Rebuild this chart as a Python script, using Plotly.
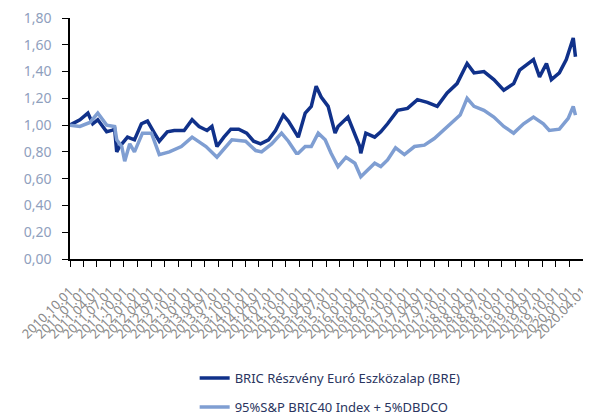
import plotly.graph_objects as go

# BRIC Részvény Euró Eszközalap (BRE)
bre_dates = ['2010-10-01', '2010-12-07', '2011-01-30', '2011-03-04', '2011-04-07', '2011-05-11',
             '2011-06-06', '2011-07-10', '2011-07-30', '2011-08-13', '2011-09-02', '2011-10-25',
             '2011-12-11', '2012-01-27', '2012-03-08', '2012-04-24', '2012-05-27', '2012-07-20',
             '2012-09-05', '2012-11-11', '2013-01-04', '2013-02-20', '2013-04-15', '2013-05-18',
             '2013-06-21', '2013-08-07', '2013-09-23', '2013-11-15', '2014-01-08', '2014-02-24',
             '2014-04-12', '2014-06-05', '2014-07-22', '2014-09-13', '2014-10-17', '2014-12-23',
             '2015-02-08', '2015-03-21', '2015-04-23', '2015-05-27', '2015-07-13', '2015-08-29',
             '2015-09-18', '2015-11-24', '2016-01-10', '2016-02-12', '2016-02-19', '2016-03-24',
             '2016-05-23', '2016-07-03', '2016-08-18', '2016-10-25', '2016-12-31', '2017-03-08',
             '2017-05-14', '2017-07-20', '2017-09-25', '2017-12-01', '2018-02-07', '2018-03-26',
             '2018-06-01', '2018-08-07', '2018-10-13', '2018-12-19', '2019-01-28', '2019-05-02',
             '2019-06-12', '2019-07-29', '2019-08-31', '2019-10-24', '2019-12-10', '2019-12-30',
             '2020-01-26', '2020-02-10']
bre_values = [1.00, 1.04, 1.09, 1.01, 1.04, 0.99,
              0.95, 0.96, 0.97, 0.80, 0.84, 0.91,
              0.89, 1.01, 1.03, 0.94, 0.88, 0.95,
              0.96, 0.96, 1.04, 0.99, 0.96, 0.99,
              0.84, 0.91, 0.97, 0.97, 0.94, 0.88,
              0.86, 0.89, 0.96, 1.075, 1.03, 0.91,
              1.09, 1.14, 1.29, 1.21, 1.14, 0.94,
              0.99, 1.06, 0.94, 0.84, 0.79, 0.94,
              0.91, 0.95, 1.01, 1.11, 1.125, 1.19,
              1.17, 1.14, 1.24, 1.31, 1.46, 1.39,
              1.40, 1.34, 1.26, 1.31, 1.41, 1.49,
              1.36, 1.46, 1.34, 1.39, 1.49, 1.56,
              1.65, 1.51]

# 95%S&P BRIC40 Index + 5%DBDCO
idx_dates = ['2010-10-01', '2010-12-07', '2011-02-13', '2011-04-07', '2011-06-06', '2011-07-30',
             '2011-08-13', '2011-09-16', '2011-10-06', '2011-11-09', '2011-12-11', '2012-02-03',
             '2012-04-04', '2012-05-27', '2012-08-03', '2012-10-23', '2013-01-04', '2013-04-08',
             '2013-06-21', '2013-08-21', '2013-09-30', '2014-01-01', '2014-03-10', '2014-04-19',
             '2014-06-26', '2014-09-01', '2014-10-17', '2014-12-10', '2014-12-23', '2015-02-08',
             '2015-03-21', '2015-05-07', '2015-06-23', '2015-08-02', '2015-09-18', '2015-11-11',
             '2016-01-10', '2016-02-19', '2016-04-05', '2016-05-23', '2016-07-03', '2016-08-18',
             '2016-10-11', '2016-12-10', '2017-02-16', '2017-04-24', '2017-06-30', '2017-08-10',
             '2017-10-16', '2017-12-22', '2018-02-07', '2018-03-26', '2018-06-01', '2018-08-07',
             '2018-10-13', '2018-12-19', '2019-02-24', '2019-05-02', '2019-07-08', '2019-08-17',
             '2019-10-24', '2019-12-23', '2020-01-26', '2020-02-10']
idx_values = [1.00, 0.99, 1.02, 1.09, 1.00, 0.99,
              0.89, 0.84, 0.73, 0.86, 0.80, 0.94,
              0.94, 0.78, 0.80, 0.84, 0.91, 0.84,
              0.76, 0.84, 0.89, 0.88, 0.81, 0.80,
              0.86, 0.94, 0.88, 0.79, 0.79, 0.84,
              0.84, 0.94, 0.89, 0.79, 0.69, 0.76,
              0.715, 0.615, 0.665, 0.715, 0.69, 0.74,
              0.83, 0.78, 0.84, 0.85, 0.90, 0.94,
              1.01, 1.075, 1.20, 1.14, 1.11, 1.06,
              0.99, 0.94, 1.01, 1.06, 1.01, 0.96,
              0.97, 1.05, 1.14, 1.075]

fig = go.Figure()
fig.add_trace(go.Scatter(x=bre_dates, y=bre_values, mode='lines',
                         name='BRIC Részvény Euró Eszközalap (BRE)',
                         line=dict(color='#10318a', width=3.5), legendgroup='a'))
fig.add_trace(go.Scatter(x=idx_dates, y=idx_values, mode='lines',
                         name='95%S&P BRIC40 Index + 5%DBDCO',
                         line=dict(color='#7f9ed2', width=3.5), legendgroup='b'))

# page body keeps its 8px margin, so the figure is 8px smaller and margins shifted
fig.update_layout(
    width=583, height=409,
    margin=dict(l=62, r=8, t=10, b=158, autoexpand=False),
    paper_bgcolor='white', plot_bgcolor='white',
    separators=', ',
    font=dict(family='Noto Sans, sans-serif', size=13, color='#7f7f7f'),
    showlegend=True,
    legend=dict(orientation='v', x=0.243, y=-0.432, xanchor='left', yanchor='top',
                tracegroupgap=9, font=dict(size=13, color='#2a3560')),
)
fig.update_xaxes(
    range=['2010-10-01', '2020-04-01'],
    tickmode='linear', tick0='2010-10-01', dtick='M3',
    tickformat='%Y.%m.%d', tickangle=-45,
    tickfont=dict(size=13, color='#8a8a8a'),
    ticks='outside', ticklen=6, tickcolor='black', tickwidth=1.3,
    ticklabelstandoff=12, automargin=False, ticklabeloverflow='allow',
    showline=True, linecolor='black', linewidth=1.5,
    showgrid=False, zeroline=False,
)
fig.update_yaxes(
    range=[0, 1.8], dtick=0.2, tickformat='.2f',
    tickfont=dict(size=14, color='#8fa0bd'),
    ticks='outside', ticklen=6, tickcolor='black', tickwidth=1.3,
    ticklabelstandoff=8, automargin=False, ticklabeloverflow='allow',
    showline=True, linecolor='black', linewidth=1.5,
    showgrid=False, zeroline=False,
)

fig.write_html("out.html")
